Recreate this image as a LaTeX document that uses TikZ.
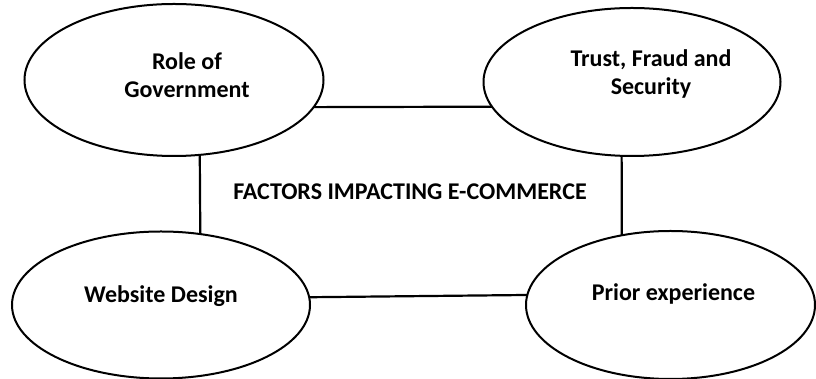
\documentclass[tikz,border=0pt]{standalone}
\usepackage{fontspec}
\setmainfont{Carlito}
\usetikzlibrary{shapes.geometric,positioning}
\tikzset
{
	factor/.style = {ellipse, draw=black, line width=2pt, outer sep=0pt, inner sep=0pt},
	factortext/.style = {align=center, font=\fontsize{24}{28}\selectfont\bfseries},
	link/.style = {draw=black, line width=2.2pt}
}

\begin{document}
\begin{tikzpicture}[x=1pt, y=1pt]
\useasboundingbox (0,0) rectangle (816,379);
% the four factors
\node[factor, minimum width=299pt, minimum height=152pt, label={[factortext, xshift=13pt, yshift=5pt]center:Role of\\Government}] (gov) at (174,299) {};
\node[factor, minimum width=297pt, minimum height=148pt, label={[factortext, xshift=19pt, yshift=8pt]center:Trust, Fraud and\\Security}] (trust) at (632,297) {};
\node[factor, minimum width=298pt, minimum height=147pt, label={[factortext, yshift=9pt]center:Website Design}] (web) at (161,74) {};
\node[factor, minimum width=289pt, minimum height=148pt, label={[factortext, xshift=3pt, yshift=11pt]center:Prior experience}] (prior) at (670.5,74) {};
% title in the middle
\node[factortext] (title) at (410,187) {FACTORS IMPACTING E-COMMERCE};
% links round the box
\draw[link] (gov.-11.35) -- (trust.190.6);
\draw[link] (gov.-71.5) -- (web.61.9);
\draw[link] (trust.-98.5) -- (prior.125.5);
\draw[link] (web.3.5) -- (prior.176.4);
\end{tikzpicture}
\end{document}
